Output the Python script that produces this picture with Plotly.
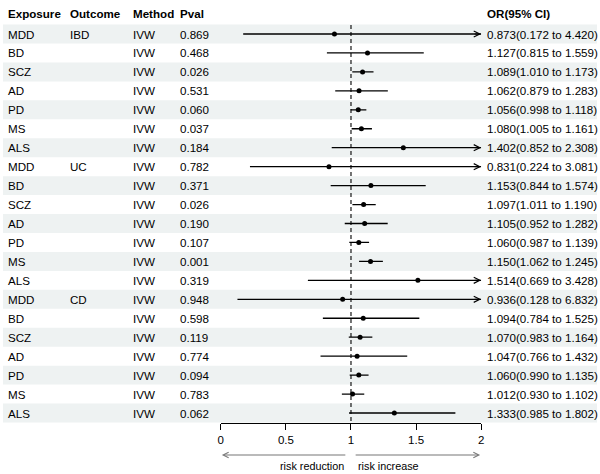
import plotly.graph_objects as go

exposures = ["MDD", "BD", "SCZ", "AD", "PD", "MS", "ALS",
             "MDD", "BD", "SCZ", "AD", "PD", "MS", "ALS",
             "MDD", "BD", "SCZ", "AD", "PD", "MS", "ALS"]
outcomes = ["IBD", "", "", "", "", "", "",
            "UC", "", "", "", "", "", "",
            "CD", "", "", "", "", "", ""]
methods = ["IVW"] * 21
pvals = ["0.869", "0.468", "0.026", "0.531", "0.060", "0.037", "0.184",
         "0.782", "0.371", "0.026", "0.190", "0.107", "0.001", "0.319",
         "0.948", "0.598", "0.119", "0.774", "0.094", "0.783", "0.062"]
or_vals = [0.873, 1.127, 1.089, 1.062, 1.056, 1.080, 1.402,
           0.831, 1.153, 1.097, 1.105, 1.060, 1.150, 1.514,
           0.936, 1.094, 1.070, 1.047, 1.060, 1.012, 1.333]
lower = [0.172, 0.815, 1.010, 0.879, 0.998, 1.005, 0.852,
         0.224, 0.844, 1.011, 0.952, 0.987, 1.062, 0.669,
         0.128, 0.784, 0.983, 0.766, 0.990, 0.930, 0.985]
upper = [4.420, 1.559, 1.173, 1.283, 1.118, 1.161, 2.308,
         3.081, 1.574, 1.190, 1.282, 1.139, 1.245, 3.428,
         6.832, 1.525, 1.164, 1.432, 1.135, 1.102, 1.802]
headers = ["Exposure", "Outcome", "Method", "Pval", "OR(95% CI)"]
x_ticks = [0, 0.5, 1, 1.5, 2]
x_min, x_max = 0, 2

W, H = 600, 474
row0_px, row_step = 34, 18.95
axis_px = 423
n = len(exposures)
y_top = -row0_px / row_step
y_bot = (axis_px - row0_px) / row_step

FONT = "Liberation Sans, Arial, Helvetica, sans-serif"
FS = 11.6
fig = go.Figure()

shapes = []
for i in range(n):
    if i % 2 == 0:
        shapes.append(dict(type="rect", xref="paper", yref="y", x0=0, x1=1,
                           y0=i - 0.5, y1=i + 0.5, fillcolor="#EEF2F2",
                           line=dict(width=0), layer="below"))
shapes.append(dict(type="line", xref="x", yref="y", x0=1, x1=1,
                   y0=-0.47, y1=y_bot, line=dict(color="black", width=1.1, dash="4px,3px")))

# CI segments
xs, ys = [], []
annotations = []
for i in range(n):
    lo = max(lower[i], x_min)
    hi = min(upper[i], x_max)
    xs += [lo, hi, None]
    ys += [i, i, None]
    if upper[i] > x_max:
        annotations.append(dict(x=x_max, y=i, ax=-8, ay=0, xref="x", yref="y",
                                axref="pixel", ayref="pixel", showarrow=True, arrowhead=5,
                                arrowsize=1.0, arrowwidth=1.2, arrowcolor="black", text=""))

fig.add_trace(go.Scatter(x=xs, y=ys, mode="lines", line=dict(color="black", width=1.3),
                         hoverinfo="skip", showlegend=False, cliponaxis=False))
fig.add_trace(go.Scatter(x=or_vals, y=list(range(n)), mode="markers",
                         marker=dict(color="black", size=5), showlegend=False,
                         cliponaxis=False))

col_x = [3, 66, 129, 177, 487]
for j, h in enumerate(headers):
    annotations.append(dict(x=col_x[j] / W, y=-1.1, xref="paper", yref="y", text="<b>" + h + "</b>",
                            showarrow=False, xanchor="left", yanchor="middle",
                            font=dict(size=FS, color="black", family=FONT)))
for i in range(n):
    ci_txt = f"{or_vals[i]:.3f}({lower[i]:.3f} to {upper[i]:.3f})"
    cells = [exposures[i], outcomes[i], methods[i], pvals[i], ci_txt]
    for j, c in enumerate(cells):
        if c:
            annotations.append(dict(x=col_x[j] / W, y=i, xref="paper", yref="y", text=c,
                                    showarrow=False, xanchor="left", yanchor="middle",
                                    font=dict(size=FS, color="black", family=FONT)))

# risk arrows
arrow_y = (H - 455) / H
annotations.append(dict(x=0.008, y=arrow_y, ax=125, ay=0, xref="x", yref="paper",
                        axref="pixel", ayref="pixel", showarrow=True, arrowhead=5, arrowsize=1,
                        arrowwidth=1.1, arrowcolor="#777777", text=""))
annotations.append(dict(x=1.992, y=arrow_y, ax=-126, ay=0, xref="x", yref="paper",
                        axref="pixel", ayref="pixel", showarrow=True, arrowhead=5, arrowsize=1,
                        arrowwidth=1.1, arrowcolor="#777777", text=""))
text_y = (H - 466) / H
annotations.append(dict(x=0.96, y=text_y, xref="x", yref="paper", text="risk reduction",
                        showarrow=False, xanchor="right", yanchor="middle",
                        font=dict(size=10.8, color="black", family=FONT)))
annotations.append(dict(x=1.035, y=text_y, xref="x", yref="paper", text="risk increase",
                        showarrow=False, xanchor="left", yanchor="middle",
                        font=dict(size=10.8, color="black", family=FONT)))

fig.update_layout(
    width=W, height=H, margin=dict(l=0, r=0, t=0, b=0),
    paper_bgcolor="white", plot_bgcolor="rgba(0,0,0,0)",
    shapes=shapes, annotations=annotations,
    xaxis=dict(domain=[220 / W, 483 / W], range=[x_min, x_max], tickvals=x_ticks,
               ticktext=[f"{t:g}" for t in x_ticks], showgrid=False, zeroline=False,
               showline=True, linecolor="black", linewidth=1, ticks="outside",
               ticklen=6, tickcolor="black", tickwidth=1,
               tickfont=dict(size=11.5, color="black", family=FONT)),
    yaxis=dict(domain=[(H - axis_px) / H, 1], range=[y_bot, y_top], visible=False,
               showgrid=False, zeroline=False),
    font=dict(family=FONT),
)
fig.write_html("out.html")
